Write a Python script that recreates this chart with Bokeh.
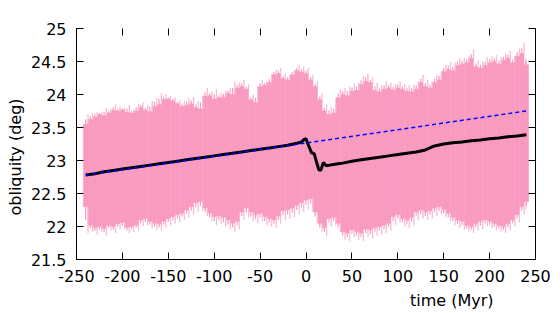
import math
from bokeh.plotting import figure
from bokeh.models import LinearAxis, FixedTicker, CustomJSTickFormatter, Title
from bokeh.embed import file_html
from bokeh.resources import INLINE

# ---------------- data ----------------
band_t = list(range(-240, 245, 5))
band_upper = [
    23.55, 23.62, 23.66, 23.70, 23.68, 23.72, 23.76, 23.75, 23.77, 23.73,
    23.72, 23.75, 23.80, 23.76, 23.74, 23.82, 23.85, 23.92, 23.93, 23.90,
    23.86, 23.82, 23.84, 23.86, 23.80, 23.78, 23.97, 23.98, 23.93, 23.95,
    23.96, 24.02, 24.00, 24.10, 24.12, 24.08, 23.92, 23.88, 24.12, 24.14,
    24.18, 24.30, 24.32, 24.24, 24.22, 24.30, 24.36, 24.34, 24.32, 24.22,
    24.12, 23.92, 23.75, 23.70, 23.72, 23.95, 24.00, 23.98, 24.05, 24.06,
    24.15, 24.20, 24.18, 24.06, 24.04, 24.08, 24.10, 24.07, 24.10, 24.08,
    24.05, 24.04, 24.08, 24.18, 24.12, 24.10, 24.18, 24.22, 24.35, 24.38,
    24.36, 24.44, 24.46, 24.48, 24.55, 24.42, 24.40, 24.44, 24.48, 24.50,
    24.46, 24.52, 24.55, 24.48, 24.58, 24.62, 24.45,
]
band_lower = [
    22.30, 22.02, 21.98, 22.00, 21.97, 22.02, 22.00, 22.04, 22.06, 21.99,
    22.00, 22.02, 22.10, 22.12, 22.08, 22.05, 22.04, 22.08, 22.12, 22.15,
    22.18, 22.20, 22.25, 22.30, 22.36, 22.38, 22.28, 22.20, 22.15, 22.16,
    22.14, 22.10, 22.05, 22.08, 22.22, 22.28, 22.22, 22.18, 22.20, 22.15,
    22.12, 22.10, 22.16, 22.24, 22.25, 22.28, 22.32, 22.36, 22.40, 22.42,
    22.22, 22.05, 21.98, 22.12, 22.14, 22.05, 21.92, 21.90, 21.95, 21.92,
    21.90, 21.96, 21.95, 21.98, 22.00, 22.02, 22.05, 22.15, 22.18, 22.12,
    22.10, 22.14, 22.22, 22.25, 22.22, 22.24, 22.28, 22.30, 22.26, 22.20,
    22.14, 22.10, 22.08, 22.02, 22.00, 22.04, 22.08, 22.10, 22.08, 22.05,
    22.02, 22.00, 22.04, 22.10, 22.18, 22.30, 22.38,
]
band_upper_peak = [
    23.70, 23.72, 23.74, 23.73, 23.80, 23.78, 23.85, 23.82, 23.80, 23.84,
    23.78, 23.86, 23.88, 23.84, 23.90, 23.95, 24.02, 24.00, 23.98, 23.96,
    23.92, 23.90, 23.95, 23.96, 23.90, 23.98, 24.10, 24.05, 24.08, 24.02,
    24.06, 24.10, 24.20, 24.18, 24.22, 24.15, 24.00, 24.02, 24.22, 24.20,
    24.28, 24.38, 24.40, 24.32, 24.30, 24.38, 24.45, 24.42, 24.40, 24.30,
    24.20, 24.02, 23.85, 23.82, 23.85, 24.08, 24.10, 24.12, 24.16, 24.18,
    24.28, 24.32, 24.26, 24.18, 24.14, 24.20, 24.18, 24.15, 24.20, 24.16,
    24.14, 24.15, 24.20, 24.30, 24.22, 24.20, 24.30, 24.34, 24.45, 24.50,
    24.48, 24.55, 24.56, 24.58, 24.68, 24.52, 24.50, 24.56, 24.58, 24.60,
    24.56, 24.62, 24.66, 24.58, 24.70, 24.78, 24.55,
]
band_lower_peak = [
    21.90, 21.92, 21.88, 21.92, 21.86, 21.94, 21.90, 21.95, 21.96, 21.90,
    21.92, 21.94, 22.00, 22.02, 21.98, 21.95, 21.94, 21.98, 22.02, 22.04,
    22.06, 22.10, 22.14, 22.18, 22.22, 22.24, 22.16, 22.08, 22.02, 22.04,
    22.00, 21.96, 21.92, 21.96, 22.10, 22.14, 22.08, 22.04, 22.08, 22.02,
    22.00, 21.98, 22.04, 22.10, 22.12, 22.14, 22.18, 22.22, 22.26, 22.28,
    22.08, 21.92, 21.86, 22.00, 22.02, 21.92, 21.80, 21.78, 21.84, 21.80,
    21.78, 21.84, 21.82, 21.86, 21.88, 21.90, 21.94, 22.02, 22.06, 22.00,
    21.98, 22.02, 22.10, 22.12, 22.10, 22.12, 22.16, 22.18, 22.14, 22.08,
    22.02, 21.98, 21.96, 21.92, 21.90, 21.94, 21.96, 22.00, 21.98, 21.94,
    21.92, 21.90, 21.94, 22.00, 22.06, 22.18, 22.26,
]

mean_t = [-240, -230, -220, -210, -200, -190, -180, -170, -160, -150,
          -140, -130, -120, -110, -100, -90, -80, -70, -60, -50,
          -40, -30, -20, -10, -5, -2, 0, 3, 6, 9,
          12, 14, 16, 19, 22, 26, 30, 35, 40, 50,
          60, 70, 80, 90, 100, 110, 120, 130, 135, 140,
          150, 160, 170, 180, 190, 200, 210, 220, 230, 240]
mean_v = [22.78, 22.80, 22.83, 22.85, 22.87, 22.89, 22.91, 22.93, 22.95, 22.97,
          22.99, 23.01, 23.03, 23.05, 23.07, 23.09, 23.11, 23.13, 23.15, 23.17,
          23.19, 23.21, 23.23, 23.26, 23.28, 23.32, 23.33, 23.22, 23.12, 23.10,
          22.95, 22.86, 22.85, 22.97, 22.92, 22.93, 22.94, 22.95, 22.96, 22.99,
          23.01, 23.03, 23.05, 23.07, 23.09, 23.11, 23.13, 23.16, 23.19, 23.22,
          23.25, 23.27, 23.28, 23.30, 23.31, 23.33, 23.34, 23.36, 23.37, 23.39]

trend_t = [-240, 240]
trend_v = [22.78, 23.75]

x_ticks = [-250, -200, -150, -100, -50, 0, 50, 100, 150, 200, 250]
y_ticks = [21.5, 22, 22.5, 23, 23.5, 24, 24.5, 25]

x_label = "time (Myr)"
y_label = "obliquity (deg)"

# ---------------- styling ----------------
PINK = "#F99BC0"
PINK_LIGHT = "#FBB9D3"
FONT = "DejaVu Sans"

p = figure(width=560, height=313, x_range=(-250, 250), y_range=(21.5, 25),
           output_backend="svg", toolbar_location=None,
           x_axis_location=None, y_axis_location=None,
           min_border_left=73, min_border_right=25,
           min_border_top=28, min_border_bottom=54)
p.outline_line_color = None
for g in p.grid:
    g.visible = False

fmt = CustomJSTickFormatter(code="return tick.toString();")
blank = CustomJSTickFormatter(code="return '';")


def make_axis(ticks, show_labels, line=True):
    ax = LinearAxis(ticker=FixedTicker(ticks=ticks),
                    formatter=fmt if show_labels else blank)
    ax.major_tick_in = 7
    ax.major_tick_out = 0
    ax.minor_tick_line_color = None
    ax.major_tick_line_color = "black"
    ax.major_tick_line_width = 1
    ax.axis_line_color = "black" if line else None
    ax.axis_line_width = 1
    ax.major_label_text_font = FONT
    ax.major_label_text_color = "black"
    if show_labels:
        ax.major_label_text_font_size = "16px"
        ax.major_label_standoff = 10
    else:
        ax.major_label_text_font_size = "1px"
        ax.major_label_standoff = 0
    return ax


p.add_layout(make_axis(x_ticks, True), "below")
p.add_layout(make_axis(y_ticks, True), "left")
p.add_layout(make_axis(x_ticks, False, line=False), "above")
p.add_layout(make_axis(y_ticks, False), "right")

# axis titles (side titles so they can sit off-centre as in the reference)
p.add_layout(Title(text=x_label, align="right", offset=42, standoff=8,
                   text_font=FONT, text_font_size="16px",
                   text_font_style="normal", text_color="black"), "below")
p.add_layout(Title(text=y_label, align="left", offset=44, standoff=6,
                   text_font=FONT, text_font_size="16px",
                   text_font_style="normal", text_color="black"), "left")

# pink oscillation band
p.vbar(x=band_t, width=5, bottom=band_lower, top=band_upper,
       fill_color=PINK, line_color=PINK, line_width=0.6)
spike_x = [min(t + 2.5, 239.5) for t in band_t]
p.segment(x0=spike_x, x1=spike_x, y0=band_upper, y1=band_upper_peak,
          line_color=PINK_LIGHT, line_width=1.3)
p.segment(x0=spike_x, x1=spike_x, y0=band_lower_peak, y1=band_lower,
          line_color=PINK_LIGHT, line_width=1.3)
p.segment(x0=band_t, x1=band_t,
          y0=[u - 0.02 for u in band_upper],
          y1=[(u + pk) / 2 for u, pk in zip(band_upper, band_upper_peak)],
          line_color=PINK, line_width=1.2)
p.segment(x0=band_t, x1=band_t,
          y0=[(l + pk) / 2 for l, pk in zip(band_lower, band_lower_peak)],
          y1=[l + 0.02 for l in band_lower],
          line_color=PINK, line_width=1.2)

# mean obliquity and linear trend
p.line(mean_t, mean_v, line_color="black", line_width=3)
p.line(trend_t, trend_v, line_color="#0000FF", line_width=1.5, line_dash="4 3")

open("out.html", "w").write(file_html(p, INLINE))
